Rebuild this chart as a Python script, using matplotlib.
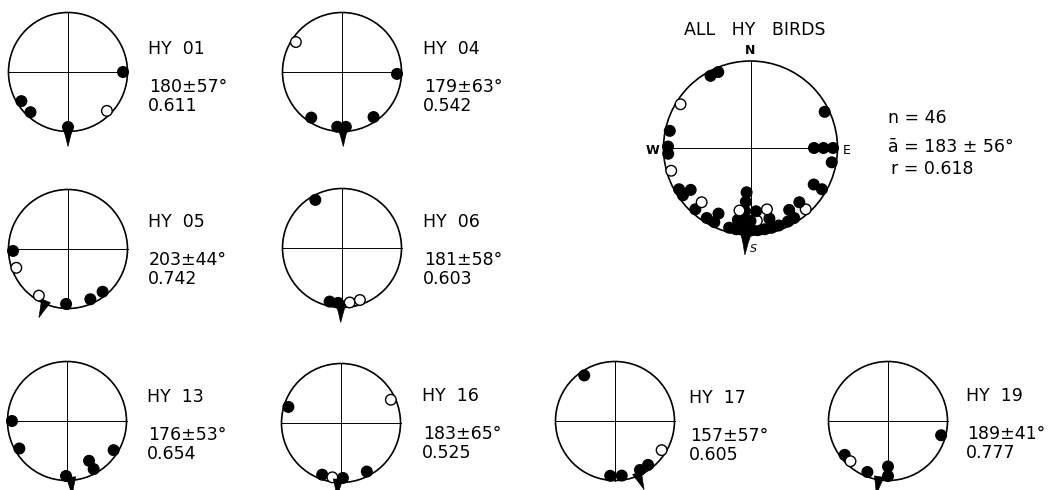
import numpy as np
import matplotlib
matplotlib.use("Agg")
import matplotlib.pyplot as plt
from matplotlib.patches import Circle, Polygon

# Individual birds: headings (deg from N, clockwise) and which ones are open circles
names = ["HY 01", "HY 04", "HY 05", "HY 06", "HY 13", "HY 16", "HY 17", "HY 19"]
mean_dirs = [180, 179, 203, 181, 176, 183, 157, 189]
ang_devs = [57, 63, 44, 58, 53, 65, 57, 41]
r_values = ["0.611", "0.542", "0.742", "0.603", "0.654", "0.525", "0.605", "0.777"]
headings = [
    [90, 238, 223, 180, 135],
    [303, 92, 214, 185, 176, 145],
    [268, 250, 212, 182, 156, 141],
    [331, 193, 184, 172, 161],
    [270, 240, 181, 151, 151, 122],
    [287, 65, 200, 189, 178, 152],
    [326, 122, 143, 153, 173, 185],
    [105, 232, 223, 202, 180, 180],
]
open_marks = [
    [0, 0, 0, 0, 1],
    [1, 0, 0, 0, 0, 0],
    [0, 1, 1, 0, 0, 0],
    [0, 0, 0, 1, 1],
    [0, 0, 0, 0, 0, 0],
    [0, 1, 0, 1, 0, 0],
    [0, 1, 0, 0, 0, 0],
    [0, 0, 1, 0, 0, 0],
]

# All HY birds pooled
all_headings = [331, 337, 302, 282, 271, 266, 254, 240, 235, 235, 222, 222, 212, 206, 206,
                64, 90, 90, 90, 100, 120, 120, 138, 138, 148, 148, 153,
                160, 165, 165, 165, 170, 175, 175, 175, 180, 180,
                185, 185, 185, 185, 185, 190, 190, 190, 195]
all_open = [0, 0, 1, 0, 0, 0, 1, 0, 0, 0, 0, 1, 0, 0, 0,
            0, 0, 0, 0, 0, 0, 0, 1, 0, 0, 0, 0,
            0, 0, 0, 1, 0, 0, 1, 0, 0, 0,
            0, 0, 0, 0, 0, 0, 0, 1, 0]
all_n = 46
all_mean = 183
all_dev = 56
all_r = "0.618"

# layout in pixels: circle centre and label position
small_layout = [(68, 72, 148, 49), (342, 72, 423, 49), (68, 249, 148, 222), (342, 248, 423, 222),
                (67, 421, 147, 397), (341, 423, 422, 396), (615, 421, 689, 398), (888, 421, 966, 396)]
R_SMALL = 59.5
R_BIG = 87
DOT_R = 5.3

plt.rcParams['font.family'] = ['DejaVu Sans']
fig = plt.figure(figsize=(10.63, 4.90), dpi=100)
ax = fig.add_axes([0, 0, 1, 1])
ax.set_xlim(0, 1063)
ax.set_ylim(490, 0)
ax.set_aspect('equal')
ax.axis('off')


def polar(cx, cy, r, b):
    t = np.radians(b)
    return cx + r * np.sin(t), cy - r * np.cos(t)


def draw_circle_plot(cx, cy, R, hs, opens, mean, arrow_len, arrow_w):
    ax.add_patch(Circle((cx, cy), R, fill=False, lw=1.2, ec='black', zorder=2))
    ax.plot([cx - R, cx + R], [cy, cy], color='black', lw=0.7, zorder=1)
    ax.plot([cx, cx], [cy - R, cy + R], color='black', lw=0.7, zorder=1)
    # stack repeated headings inward
    seen = {}
    for h, o in zip(hs, opens):
        k = seen.get(h, 0)
        seen[h] = k + 1
        x, y = polar(cx, cy, R - 4.5 - k * 9.5, h)
        ax.add_patch(Circle((x, y), DOT_R, fc='white' if o else 'black',
                            ec='black', lw=1.0, zorder=3))
    # mean direction arrow
    pts = [polar(cx, cy, R - 3, mean - np.degrees(arrow_w / R)),
           polar(cx, cy, R + arrow_len * 0.4, mean - np.degrees(arrow_w * 0.4 / R)),
           polar(cx, cy, R + arrow_len, mean),
           polar(cx, cy, R + arrow_len * 0.4, mean + np.degrees(arrow_w * 0.4 / R)),
           polar(cx, cy, R - 3, mean + np.degrees(arrow_w / R))]
    ax.add_patch(Polygon(pts, closed=True, fc='black', ec='black', lw=0.5, zorder=4))


fs = 12.5
for i in range(len(names)):
    cx, cy, tx, ty = small_layout[i]
    draw_circle_plot(cx, cy, R_SMALL, headings[i], open_marks[i], mean_dirs[i], 15, 5)
    ax.text(tx, ty, names[i].replace(" ", "  "), fontsize=fs, va='center', ha='left')
    ax.text(tx + 1, ty + 38, f"{mean_dirs[i]}±{ang_devs[i]}°", fontsize=fs, va='center', ha='left')
    ax.text(tx, ty + 57, r_values[i], fontsize=fs, va='center', ha='left')

# pooled plot
bx, by = 750.5, 148
draw_circle_plot(bx, by, R_BIG, all_headings, all_open, all_mean, 20, 6)
ax.text(755, 30, "ALL   HY   BIRDS", fontsize=fs, va='center', ha='center')
ax.text(bx, 50, "N", fontsize=9, fontweight='bold', va='center', ha='center')
ax.text(652, 150, "W", fontsize=9, fontweight='bold', va='center', ha='center')
ax.text(847, 150, "E", fontsize=9, va='center', ha='center')
ax.text(754, 249, "S", fontsize=8, style='italic', va='center', ha='center')

ax.text(888, 118, f"n = {all_n}", fontsize=fs, va='center', ha='left')
ax.text(888, 147, f"ā = {all_mean} ± {all_dev}°", fontsize=fs, va='center', ha='left')
ax.text(891, 169, f"r = {all_r}", fontsize=fs, va='center', ha='left')

fig.savefig("out.png", dpi=100)
